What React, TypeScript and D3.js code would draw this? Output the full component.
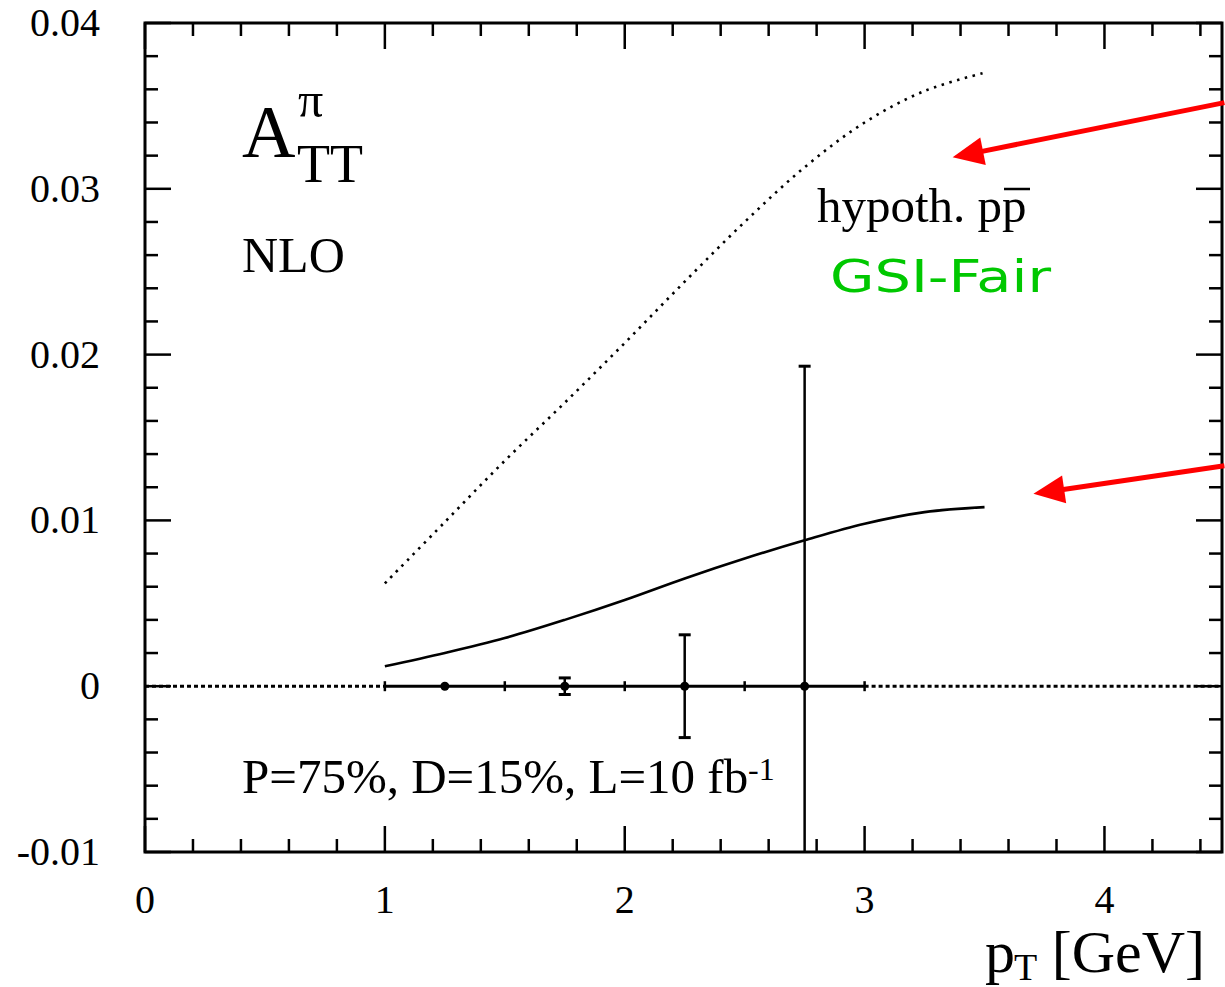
import React from 'react';
import * as d3 from 'd3';

// curves: A_TT^pi at NLO vs pT
const curveX = [1.0, 1.25, 1.5, 1.75, 2.0, 2.25, 2.5, 2.75, 3.0, 3.25, 3.5];
const hypothPPbar = [0.0062, 0.0099, 0.0136, 0.0171, 0.0207, 0.0244, 0.0280, 0.0313, 0.0340, 0.0359, 0.0370];
const gsiFair = [0.0012, 0.0020, 0.0029, 0.0040, 0.0052, 0.0065, 0.0077, 0.0088, 0.0098, 0.0105, 0.0108];

// projected points with stat errors
const binCenters = [1.25, 1.75, 2.25, 2.75];
const binValues = [0, 0, 0, 0];
const binErrors = [0, 0.0005, 0.0031, 0.0193];
const binEdges = [1, 1.5, 2, 2.5, 3];

const xTickValues = [0, 1, 2, 3, 4];
const xTickLabels = ['0', '1', '2', '3', '4'];
const yTickValues = [-0.01, 0, 0.01, 0.02, 0.03, 0.04];
const yTickLabels = ['-0.01', '0', '0.01', '0.02', '0.03', '0.04'];

// annotation arrows: [from, to] in data coords
const arrows = [
  [[4.5, 0.0352], [3.367, 0.0319]],
  [[4.5, 0.0133], [3.704, 0.0116]],
];

const serif = '"Liberation Serif", "Times New Roman", serif';

export default function App() {
  const W = 1225, H = 987;
  const left = 145, right = 1222, top = 23, bottom = 852;

  const x = d3.scaleLinear().domain([0, 4.49]).range([left, right]);
  const y = d3.scaleLinear().domain([-0.01, 0.04]).range([bottom, top]);

  const line = d3.line<number>()
    .x((_, i) => x(curveX[i]))
    .y(d => y(d))
    .curve(d3.curveCatmullRom.alpha(0.5));

  const xMinor = d3.range(0, 4.5, 0.2).filter(v => Math.abs(v - Math.round(v)) > 1e-6);
  const yMinor = d3.range(-0.01, 0.0401, 0.002).filter(v => Math.abs(v * 100 - Math.round(v * 100)) > 1e-6);

  const majorLen = 26, minorLen = 13;

  const arrowHead = (fx: number, fy: number, tx: number, ty: number) => {
    const dx = tx - fx, dy = ty - fy;
    const len = Math.hypot(dx, dy);
    const ux = dx / len, uy = dy / len;
    const hl = 31, hw = 14;
    const bx = tx - ux * hl, by = ty - uy * hl;
    return `${tx},${ty} ${bx - uy * hw},${by + ux * hw} ${bx + uy * hw},${by - ux * hw}`;
  };

  return (
    <svg width={W} height={H} style={{ position: 'absolute', left: 0, top: 0, background: '#fff' }}>
      <defs>
        <clipPath id="plot">
          <rect x={left} y={top} width={right - left} height={bottom - top} />
        </clipPath>
      </defs>

      {/* frame */}
      <rect x={left} y={top} width={right - left} height={bottom - top} fill="none" stroke="#000" strokeWidth={3} />

      {/* x ticks bottom & top */}
      {xTickValues.map(v => (
        <g key={'xm' + v}>
          <line x1={x(v)} x2={x(v)} y1={bottom} y2={bottom - majorLen} stroke="#000" strokeWidth={2.5} />
          <line x1={x(v)} x2={x(v)} y1={top} y2={top + majorLen} stroke="#000" strokeWidth={2.5} />
        </g>
      ))}
      {xMinor.map(v => (
        <g key={'xn' + v}>
          <line x1={x(v)} x2={x(v)} y1={bottom} y2={bottom - minorLen} stroke="#000" strokeWidth={2.5} />
          <line x1={x(v)} x2={x(v)} y1={top} y2={top + minorLen} stroke="#000" strokeWidth={2.5} />
        </g>
      ))}

      {/* y ticks left & right */}
      {yTickValues.map(v => (
        <g key={'ym' + v}>
          <line x1={left} x2={left + majorLen} y1={y(v)} y2={y(v)} stroke="#000" strokeWidth={2.5} />
          <line x1={right} x2={right - majorLen} y1={y(v)} y2={y(v)} stroke="#000" strokeWidth={2.5} />
        </g>
      ))}
      {yMinor.map(v => (
        <g key={'yn' + v}>
          <line x1={left} x2={left + minorLen} y1={y(v)} y2={y(v)} stroke="#000" strokeWidth={2.5} />
          <line x1={right} x2={right - minorLen} y1={y(v)} y2={y(v)} stroke="#000" strokeWidth={2.5} />
        </g>
      ))}

      {/* tick labels */}
      {yTickValues.map((v, i) => (
        <text key={'yl' + v} x={100} y={y(v) + 13} textAnchor="end" fontFamily={serif} fontSize={40}>{yTickLabels[i]}</text>
      ))}
      {xTickValues.map((v, i) => (
        <text key={'xl' + v} x={x(v)} y={913} textAnchor="middle" fontFamily={serif} fontSize={40}>{xTickLabels[i]}</text>
      ))}

      <g clipPath="url(#plot)">
        {/* zero line: dotted outside bins, solid across bins */}
        <line x1={x(0)} x2={x(binEdges[0])} y1={y(0)} y2={y(0)} stroke="#000" strokeWidth={3} strokeDasharray="4 3" />
        <line x1={x(binEdges[binEdges.length - 1])} x2={right} y1={y(0)} y2={y(0)} stroke="#000" strokeWidth={3} strokeDasharray="4 3" />
        <line x1={x(binEdges[0])} x2={x(binEdges[binEdges.length - 1])} y1={y(0)} y2={y(0)} stroke="#000" strokeWidth={3} />
        {binEdges.map(e => (
          <line key={'be' + e} x1={x(e)} x2={x(e)} y1={y(0) - 5} y2={y(0) + 5} stroke="#000" strokeWidth={2.5} />
        ))}

        {/* curves */}
        <path d={line(hypothPPbar) ?? ''} fill="none" stroke="#000" strokeWidth={2.6} strokeDasharray="2.5 5.5" />
        <path d={line(gsiFair) ?? ''} fill="none" stroke="#000" strokeWidth={2.6} />

        {/* error bars */}
        {binCenters.map((c, i) => {
          const lo = y(binValues[i] - binErrors[i]);
          const hi = y(binValues[i] + binErrors[i]);
          return (
            <g key={'eb' + c}>
              {binErrors[i] > 0 && (
                <>
                  <line x1={x(c)} x2={x(c)} y1={lo} y2={hi} stroke="#000" strokeWidth={2.5} />
                  <line x1={x(c) - 6} x2={x(c) + 6} y1={hi} y2={hi} stroke="#000" strokeWidth={3} />
                  <line x1={x(c) - 6} x2={x(c) + 6} y1={lo} y2={lo} stroke="#000" strokeWidth={3} />
                </>
              )}
              <circle cx={x(c)} cy={y(binValues[i])} r={4.5} fill="#000" />
            </g>
          );
        })}
      </g>

      {/* labels */}
      <text x={242} y={157} fontFamily={serif} fontSize={74}>A</text>
      <text x={298} y={117} fontFamily={serif} fontSize={50}>π</text>
      <text x={297} y={182} fontFamily={serif} fontSize={54}>TT</text>
      <text x={242} y={272} fontFamily={serif} fontSize={50}>NLO</text>

      <text x={817} y={222} fontFamily={serif} fontSize={49}>hypoth. pp</text>
      <line x1={1004} x2={1030} y1={189} y2={189} stroke="#000" strokeWidth={2.5} />
      <text x={830} y={292} fontFamily='"DejaVu Sans", sans-serif' fontSize={44} fill="#00c800"
        textLength={221} lengthAdjust="spacingAndGlyphs">GSI-Fair</text>

      <text x={242} y={793} fontFamily={serif} fontSize={49}>P=75%, D=15%, L=10 fb</text>
      <text x={748} y={780} fontFamily={serif} fontSize={32}>-1</text>

      <text x={985} y={972} fontFamily={serif} fontSize={60}>p</text>
      <text x={1014} y={980} fontFamily={serif} fontSize={38}>T</text>
      <text x={1205} y={972} textAnchor="end" fontFamily={serif} fontSize={60}>[GeV]</text>

      {/* red arrows */}
      {arrows.map(([f, t], i) => {
        const fx = x(f[0]), fy = y(f[1]), tx = x(t[0]), ty = y(t[1]);
        const dx = tx - fx, dy = ty - fy, len = Math.hypot(dx, dy);
        const ex = tx - (dx / len) * 25, ey = ty - (dy / len) * 25;
        return (
          <g key={'ar' + i}>
            <line x1={fx} y1={fy} x2={ex} y2={ey} stroke="#ff0000" strokeWidth={5} />
            <polygon points={arrowHead(fx, fy, tx, ty)} fill="#ff0000" />
          </g>
        );
      })}
    </svg>
  );
}
